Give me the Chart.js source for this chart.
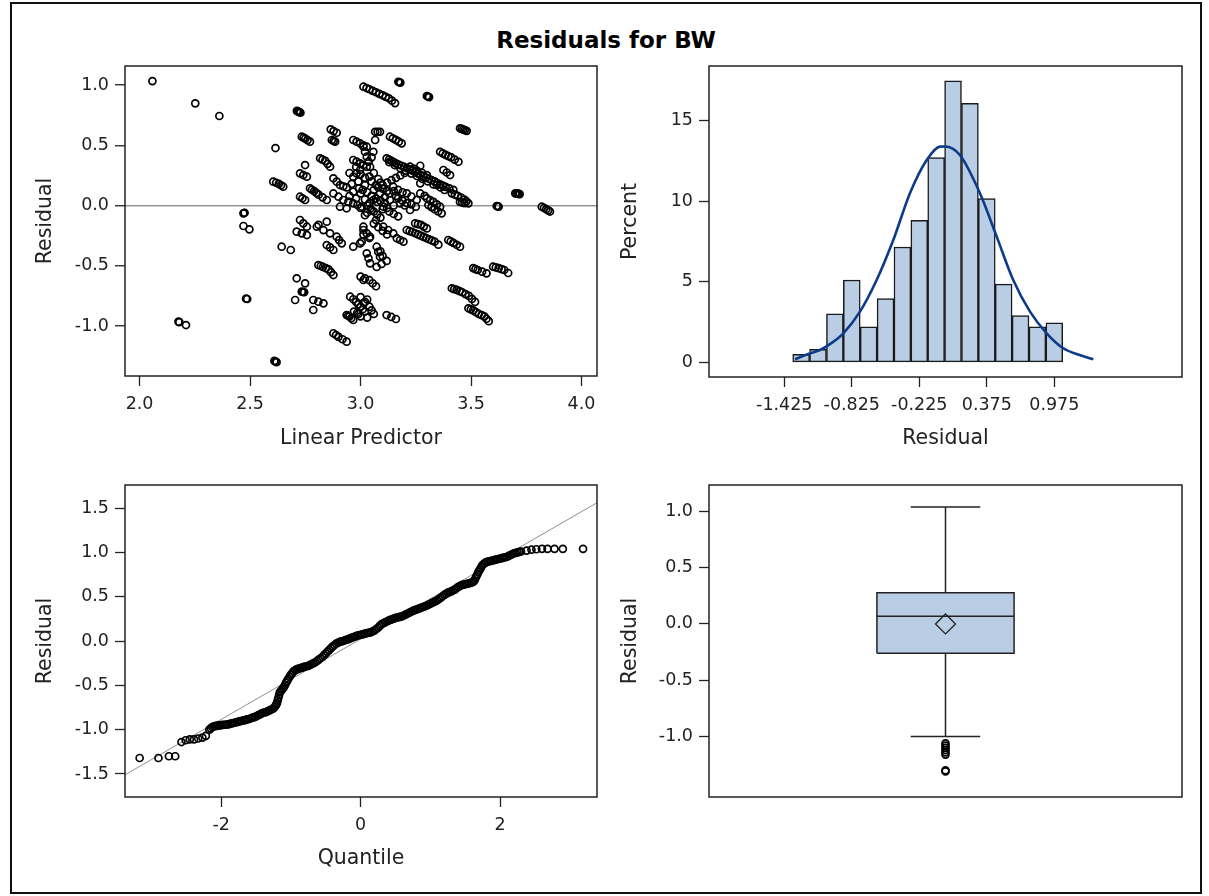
<!DOCTYPE html>
<html>
<head>
<meta charset="utf-8">
<title>Residuals for BW</title>
<script src="https://cdn.jsdelivr.net/npm/chart.js@4.4.1/dist/chart.umd.min.js"></script>
<style>
  html, body { margin: 0; padding: 0; background: #fff; }
  #stage { position: relative; width: 1209px; height: 896px; overflow: hidden; background: #fff; }
  #frame { position: absolute; left: 10px; top: 2px; width: 1192px; height: 892px; box-sizing: border-box; border: 2px solid #111; }
  #title { position: absolute; left: 0; top: 29px; width: 1212px; text-align: center; font: bold 23px "DejaVu Sans", sans-serif; line-height: 23px; color: #000; }
  canvas { position: absolute; }
</style>
</head>
<body>
<div id="stage">
  <div id="frame"></div>
  <div id="title">Residuals for BW</div>
  <canvas id="fitPlot" width="579" height="405" style="left:33px;top:46px"></canvas>
  <canvas id="histPlot" width="579" height="405" style="left:618px;top:46px"></canvas>
  <canvas id="qqPlot" width="579" height="406" style="left:33px;top:465px"></canvas>
  <canvas id="boxPlot" width="579" height="352" style="left:618px;top:465px"></canvas>
</div>
<script>
// residual vs linear predictor
const fitPoints = [
  [2.058, 1.033], [2.252, 0.848], [2.361, 0.743], [2.615, 0.477],
  [2.712, 0.785], [2.716, 0.782], [2.720, 0.778], [2.724, 0.774], [2.728, 0.770],
  [2.734, 0.571], [2.742, 0.563], [2.750, 0.555], [2.760, 0.543], [2.771, 0.530],
  [2.865, 0.632], [2.878, 0.618], [2.892, 0.604], [2.870, 0.544], [2.878, 0.537], [2.885, 0.530],
  [2.817, 0.392], [2.828, 0.381], [2.840, 0.370], [2.851, 0.346], [2.862, 0.322],
  [2.605, 0.198], [2.618, 0.189], [2.630, 0.180], [2.640, 0.168], [2.650, 0.156],
  [2.726, 0.267], [2.741, 0.253], [2.757, 0.239], [2.749, 0.336],
  [2.726, 0.073], [2.737, 0.060], [2.749, 0.046],
  [2.771, 0.143], [2.780, 0.131], [2.790, 0.120], [2.800, 0.105], [2.810, 0.090], [2.828, 0.068], [2.847, 0.046],
  [2.877, 0.226], [2.892, 0.198], [2.907, 0.170], [2.922, 0.160], [2.937, 0.150], [2.967, 0.239], [2.982, 0.267],
  [2.998, 0.295], [2.967, 0.115], [2.993, 0.142], [3.020, 0.170], [2.877, 0.100], [2.900, 0.073], [2.922, 0.046],
  [2.945, 0.032], [2.967, 0.018], [2.986, 0.004], [3.005, -0.010], [2.937, -0.023], [2.907, -0.010], [2.950, 0.080],
  [2.980, 0.060], [2.990, 0.200], [2.960, 0.180],
  [2.967, 0.544], [2.982, 0.530], [2.998, 0.515], [3.013, 0.500], [3.028, 0.488],
  [2.967, 0.378], [2.982, 0.364], [2.998, 0.350], [3.013, 0.336], [3.028, 0.322],
  [3.013, 0.986], [3.027, 0.975], [3.040, 0.965], [3.055, 0.952], [3.070, 0.940], [3.085, 0.927], [3.100, 0.915],
  [3.114, 0.902], [3.128, 0.890], [3.142, 0.870], [3.156, 0.850],
  [3.171, 1.027], [3.176, 1.023], [3.180, 1.020], [3.300, 0.909], [3.305, 0.905], [3.310, 0.900],
  [3.450, 0.641], [3.458, 0.636], [3.465, 0.630], [3.472, 0.625], [3.480, 0.620],
  [3.066, 0.612], [3.077, 0.612], [3.088, 0.612], [3.066, 0.544],
  [3.133, 0.571], [3.146, 0.558], [3.160, 0.545], [3.173, 0.530], [3.186, 0.516],
  [3.013, 0.488], [3.020, 0.447], [3.028, 0.405], [3.036, 0.364], [3.043, 0.322], [3.058, 0.446], [3.050, 0.400],
  [3.360, 0.446], [3.372, 0.433], [3.385, 0.420], [3.397, 0.410], [3.410, 0.400], [3.426, 0.381], [3.443, 0.363],
  [3.118, 0.392], [3.129, 0.381], [3.140, 0.370], [3.150, 0.360], [3.160, 0.350], [3.172, 0.340], [3.185, 0.330],
  [3.197, 0.320], [3.210, 0.310], [3.222, 0.300], [3.235, 0.290], [3.247, 0.277], [3.260, 0.265], [3.272, 0.255],
  [3.285, 0.245], [3.297, 0.232], [3.310, 0.220], [3.322, 0.210], [3.335, 0.200], [3.347, 0.187], [3.360, 0.175],
  [3.372, 0.165], [3.385, 0.155], [3.402, 0.142], [3.420, 0.130],
  [3.130, 0.360], [3.155, 0.335], [3.180, 0.310], [3.205, 0.290], [3.230, 0.265], [3.255, 0.245], [3.280, 0.220],
  [3.305, 0.200], [3.330, 0.175],
  [3.224, 0.322], [3.240, 0.306], [3.255, 0.290], [3.278, 0.272], [3.300, 0.253], [3.270, 0.330],
  [3.413, 0.101], [3.427, 0.090], [3.440, 0.080], [3.455, 0.065], [3.470, 0.050], [3.479, 0.034], [3.488, 0.018],
  [3.700, 0.101], [3.705, 0.100], [3.710, 0.100], [3.715, 0.097], [3.720, 0.095],
  [3.616, -0.004], [3.620, -0.007], [3.625, -0.010],
  [3.820, -0.010], [3.830, -0.020], [3.840, -0.030], [3.849, -0.040], [3.857, -0.050],
  [3.345, 0.170], [3.362, 0.150], [3.380, 0.129],
  [3.148, 0.156], [3.170, 0.130], [3.190, 0.110], [3.209, 0.101], [3.230, 0.075], [3.254, 0.046], [3.179, 0.018],
  [3.200, 0.000], [3.224, -0.037], [3.133, 0.046], [3.110, 0.070], [3.088, 0.101], [3.103, -0.010], [3.120, -0.020],
  [3.058, 0.046], [3.075, 0.030], [3.150, 0.000], [3.160, 0.080], [3.120, 0.120], [3.100, 0.140], [3.070, 0.170],
  [3.050, 0.200], [3.040, 0.240], [3.080, 0.220], [3.060, 0.270], [3.090, 0.190],
  [3.000, 0.100], [3.010, 0.130], [3.030, 0.110], [3.050, 0.080], [3.020, 0.050], [3.040, 0.020], [3.070, 0.060],
  [3.090, 0.040], [3.110, 0.020], [3.130, 0.100], [3.150, 0.120], [3.170, 0.060], [3.190, 0.040], [3.210, 0.020],
  [3.230, 0.010], [3.250, -0.010], [3.270, 0.100], [3.290, 0.080], [3.060, 0.130], [3.080, 0.150], [3.100, 0.170],
  [3.120, 0.190], [3.140, 0.210], [3.160, 0.230], [3.180, 0.250], [3.200, 0.270], [2.980, 0.320], [3.000, 0.260],
  [3.020, 0.230], [2.950, 0.270], [3.130, -0.050], [3.150, -0.070], [3.170, -0.090],
  [3.060, -0.150], [3.080, -0.180], [3.100, -0.210], [3.120, -0.240],
  [3.300, 0.060], [3.315, 0.045], [3.330, 0.030], [3.345, 0.010], [3.360, -0.010],
  [3.270, 0.184], [3.375, 0.295], [3.390, 0.274], [3.405, 0.253],
  [2.470, -0.065], [2.473, -0.062], [2.475, -0.060],
  [2.470, -0.170], [2.497, -0.198],
  [2.643, -0.342], [2.684, -0.369],
  [2.482, -0.773], [2.487, -0.776],
  [2.176, -0.964], [2.180, -0.968], [2.210, -0.992],
  [2.610, -1.290], [2.615, -1.295], [2.620, -1.300],
  [2.711, -0.604], [2.749, -0.646],
  [2.734, -0.715], [2.740, -0.718], [2.745, -0.720],
  [2.704, -0.784],
  [2.786, -0.784], [2.809, -0.798], [2.832, -0.812], [2.786, -0.867],
  [2.809, -0.494], [2.820, -0.502], [2.830, -0.510], [2.843, -0.520], [2.855, -0.530], [2.866, -0.553], [2.877, -0.577],
  [2.726, -0.120], [2.741, -0.148], [2.757, -0.176], [2.711, -0.217], [2.734, -0.231], [2.757, -0.245],
  [2.802, -0.176], [2.832, -0.204], [2.862, -0.231], [2.810, -0.160], [2.847, -0.134],
  [2.847, -0.328], [2.862, -0.348], [2.877, -0.369],
  [2.892, -0.259], [2.903, -0.287], [2.915, -0.314],
  [2.967, -0.342],
  [2.937, -0.909], [2.944, -0.915], [2.950, -0.920], [2.958, -0.935], [2.967, -0.950],
  [2.877, -1.060], [2.889, -1.075], [2.900, -1.090], [2.918, -1.110], [2.937, -1.130],
  [2.953, -0.757], [2.967, -0.778], [2.980, -0.800], [2.990, -0.820], [3.000, -0.840], [3.010, -0.860], [3.020, -0.880],
  [2.970, -0.880], [2.985, -0.890], [3.000, -0.920], [3.030, -0.780], [2.990, -0.900], [3.015, -0.810],
  [3.013, -0.618],
  [3.013, -0.203], [3.028, -0.231], [3.043, -0.259],
  [3.000, -0.020], [3.030, -0.060], [3.050, -0.040],
  [3.005, -0.300], [3.040, -0.270],
  [3.030, 0.000], [3.060, -0.050], [3.090, -0.100], [3.020, -0.080], [3.070, -0.120], [3.100, -0.030], [3.045, -0.025],
  [3.075, -0.075],
  [3.013, -0.176], [3.073, -0.342], [3.080, -0.384], [3.088, -0.425], [3.028, -0.397], [3.036, -0.438], [3.043, -0.480],
  [2.998, -0.314], [3.013, -0.240],
  [3.103, -0.176], [3.125, -0.203], [3.148, -0.231],
  [3.164, -0.272], [3.179, -0.286], [3.194, -0.300],
  [3.209, -0.203], [3.222, -0.212], [3.234, -0.220], [3.247, -0.230], [3.260, -0.240], [3.272, -0.250], [3.285, -0.260],
  [3.297, -0.270], [3.310, -0.280], [3.322, -0.290], [3.335, -0.300], [3.352, -0.325],
  [3.247, -0.148], [3.260, -0.154], [3.273, -0.160], [3.286, -0.175], [3.300, -0.190],
  [3.307, 0.004], [3.321, -0.013], [3.335, -0.030], [3.351, -0.048], [3.367, -0.065],
  [3.450, 0.030], [3.460, 0.025], [3.470, 0.020],
  [3.397, -0.286], [3.408, -0.298], [3.420, -0.310], [3.435, -0.326], [3.450, -0.342],
  [3.510, -0.520], [3.520, -0.528], [3.530, -0.535], [3.550, -0.549], [3.570, -0.563],
  [3.600, -0.508], [3.612, -0.514], [3.625, -0.520], [3.638, -0.528], [3.650, -0.535], [3.668, -0.560],
  [3.413, -0.687], [3.424, -0.694], [3.435, -0.700], [3.448, -0.710], [3.460, -0.720], [3.475, -0.735], [3.490, -0.750],
  [3.504, -0.775], [3.518, -0.800],
  [3.488, -0.853], [3.499, -0.862], [3.510, -0.870], [3.522, -0.885], [3.535, -0.900], [3.548, -0.910], [3.560, -0.920],
  [3.570, -0.940], [3.580, -0.960],
  [3.000, -0.590], [3.020, -0.605], [3.040, -0.620], [3.055, -0.645], [3.070, -0.670],
  [3.000, -0.760], [3.020, -0.800], [3.040, -0.840], [3.050, -0.870], [3.060, -0.900], [3.030, -0.930],
  [3.118, -0.909], [3.139, -0.925], [3.160, -0.942],
  [3.090, -0.380], [3.100, -0.420], [3.118, -0.460], [3.073, -0.510], [3.095, -0.485]
];

// histogram of residuals (bin midpoints, percent) and fitted normal curve
const histMid = [-1.275, -1.125, -0.975, -0.825, -0.675, -0.525, -0.375, -0.225,
                 -0.075, 0.075, 0.225, 0.375, 0.525, 0.675, 0.825, 0.975];
const histPct = [0.5, 0.8, 3.0, 5.1, 2.2, 3.95, 7.15, 8.8, 12.7, 17.45, 16.05, 10.15, 4.85, 2.9, 2.2, 2.45];
const curveX = [-1.33, -1.2, -1.108, -1.0, -0.9, -0.752, -0.604, -0.456, -0.308, -0.159, -0.041, 0.003,
                0.136, 0.314, 0.463, 0.61, 0.759, 0.907, 1.055, 1.2, 1.322];
const curveY = [0.19, 0.55, 0.76, 1.22, 1.8, 3.14, 5.1, 7.58, 10.48, 12.54, 13.37, 13.38,
                12.85, 10.48, 7.79, 5.1, 3.14, 1.8, 0.87, 0.45, 0.19];

// normal quantile plot (quantile, residual)
const qqPoints = [
  [-3.17, -1.32], [-2.90, -1.32], [-2.75, -1.30], [-2.66, -1.30],
  [-2.57, -1.14], [-2.51, -1.12], [-2.45, -1.11], [-2.39, -1.11], [-2.33, -1.10], [-2.27, -1.09], [-2.22, -1.07],
  [-2.17, -1.00], [-2.15, -0.985], [-2.13, -0.97], [-2.11, -0.965], [-2.09, -0.96], [-2.07, -0.957], [-2.05, -0.955],
  [-2.025, -0.952], [-2.00, -0.95], [-1.975, -0.947], [-1.95, -0.945], [-1.925, -0.942], [-1.90, -0.94],
  [-1.875, -0.935], [-1.85, -0.93], [-1.825, -0.925], [-1.80, -0.92], [-1.775, -0.915], [-1.75, -0.91],
  [-1.725, -0.905], [-1.70, -0.90], [-1.675, -0.895], [-1.65, -0.89], [-1.625, -0.885], [-1.60, -0.88],
  [-1.575, -0.872], [-1.55, -0.865], [-1.525, -0.858], [-1.50, -0.85], [-1.475, -0.84], [-1.45, -0.83],
  [-1.425, -0.82], [-1.40, -0.81], [-1.375, -0.805], [-1.35, -0.80], [-1.325, -0.79], [-1.30, -0.78],
  [-1.275, -0.77], [-1.25, -0.76], [-1.235, -0.745], [-1.22, -0.73], [-1.21, -0.715], [-1.20, -0.70],
  [-1.19, -0.67], [-1.18, -0.64], [-1.17, -0.61], [-1.16, -0.58], [-1.145, -0.565], [-1.13, -0.55],
  [-1.115, -0.535], [-1.10, -0.52], [-1.085, -0.495], [-1.07, -0.47], [-1.055, -0.45], [-1.04, -0.43],
  [-1.02, -0.405], [-1.00, -0.38], [-0.98, -0.36], [-0.96, -0.34], [-0.94, -0.33], [-0.92, -0.32],
  [-0.90, -0.315], [-0.88, -0.31], [-0.86, -0.305], [-0.84, -0.30], [-0.82, -0.295], [-0.80, -0.29],
  [-0.775, -0.285], [-0.75, -0.28], [-0.725, -0.27], [-0.70, -0.26], [-0.675, -0.25], [-0.65, -0.24],
  [-0.625, -0.225], [-0.60, -0.21], [-0.575, -0.195], [-0.55, -0.18], [-0.525, -0.16], [-0.50, -0.14],
  [-0.475, -0.12], [-0.45, -0.10], [-0.425, -0.08], [-0.40, -0.06], [-0.375, -0.045], [-0.35, -0.03],
  [-0.325, -0.02], [-0.30, -0.01], [-0.275, -0.005], [-0.25, 0.00], [-0.225, 0.008], [-0.20, 0.015],
  [-0.175, 0.022], [-0.15, 0.03], [-0.125, 0.038], [-0.10, 0.045], [-0.075, 0.052], [-0.05, 0.06],
  [-0.025, 0.065], [0.00, 0.07], [0.025, 0.075], [0.05, 0.08], [0.075, 0.085], [0.10, 0.09],
  [0.125, 0.095], [0.15, 0.10], [0.175, 0.11], [0.20, 0.12], [0.225, 0.135], [0.25, 0.15],
  [0.275, 0.17], [0.30, 0.19], [0.325, 0.20], [0.35, 0.21], [0.375, 0.22], [0.40, 0.23],
  [0.425, 0.238], [0.45, 0.245], [0.475, 0.252], [0.50, 0.26], [0.525, 0.265], [0.55, 0.27],
  [0.575, 0.275], [0.60, 0.28], [0.625, 0.29], [0.65, 0.30], [0.675, 0.31], [0.70, 0.32],
  [0.725, 0.33], [0.75, 0.34], [0.775, 0.348], [0.80, 0.355], [0.825, 0.362], [0.85, 0.37],
  [0.875, 0.378], [0.90, 0.385], [0.925, 0.392], [0.95, 0.40], [0.975, 0.41], [1.00, 0.42],
  [1.025, 0.43], [1.05, 0.44], [1.075, 0.45], [1.10, 0.46], [1.125, 0.475], [1.15, 0.49],
  [1.175, 0.505], [1.20, 0.52], [1.225, 0.532], [1.25, 0.545], [1.275, 0.552], [1.30, 0.56],
  [1.325, 0.57], [1.35, 0.58], [1.375, 0.595], [1.40, 0.61], [1.425, 0.62], [1.45, 0.63],
  [1.475, 0.635], [1.50, 0.64], [1.525, 0.645], [1.55, 0.65], [1.575, 0.655], [1.60, 0.66],
  [1.615, 0.67], [1.63, 0.68], [1.645, 0.705], [1.66, 0.73], [1.675, 0.755], [1.69, 0.78],
  [1.705, 0.80], [1.72, 0.82], [1.735, 0.84], [1.75, 0.86], [1.775, 0.875], [1.80, 0.89],
  [1.825, 0.895], [1.85, 0.90], [1.875, 0.905], [1.90, 0.91], [1.925, 0.915], [1.95, 0.92],
  [1.975, 0.925], [2.00, 0.93], [2.025, 0.935], [2.05, 0.94], [2.075, 0.945], [2.10, 0.95],
  [2.125, 0.96], [2.15, 0.97], [2.175, 0.98], [2.20, 0.99], [2.225, 0.995], [2.25, 1.00],
  [2.275, 1.005], [2.30, 1.01],
  [2.38, 1.02], [2.45, 1.03], [2.52, 1.035], [2.60, 1.04], [2.68, 1.04], [2.78, 1.04], [2.90, 1.04], [3.19, 1.04]
];
const qqLineX = [-3.38, 3.39];
const qqLineY = [-1.51, 1.56];

// box plot summary
const boxQ1 = -0.261;
const boxMedian = 0.068;
const boxQ3 = 0.278;
const boxMean = 0.0;
const whiskerLow = -1.0;
const whiskerHigh = 1.038;
const boxOutliers = [-1.06, -1.08, -1.10, -1.12, -1.14, -1.16, -1.30, -1.31];

// tick labels
const predTicks = [2, 2.5, 3, 3.5, 4];
const residTicks = [-1, -0.5, 0, 0.5, 1];
const histTicks = [-1.425, -0.825, -0.225, 0.375, 0.975];
const pctTicks = [0, 5, 10, 15];
const quantileTicks = [-2, 0, 2];
const qqResidTicks = [-1.5, -1, -0.5, 0, 0.5, 1, 1.5];

const INK = '#222';
const FILL = '#b9cde5';
const CURVE = '#0c3b8a';

Chart.defaults.font.family = '"DejaVu Sans", sans-serif';
Chart.defaults.font.size = 17.5;
Chart.defaults.color = INK;
Chart.defaults.animation = false;
Chart.defaults.responsive = false;
Chart.defaults.plugins.legend.display = false;
Chart.defaults.plugins.tooltip.enabled = false;

const frame = {
  id: 'frame',
  afterDatasetsDraw(chart) {
    const { ctx, chartArea: a } = chart;
    ctx.save();
    ctx.strokeStyle = INK;
    ctx.lineWidth = 1.5;
    ctx.strokeRect(a.left, a.top, a.right - a.left, a.bottom - a.top);
    ctx.restore();
  }
};

function makeAxis(position, min, max, tickValues, titleText, fmt, thickness) {
  return {
    type: 'linear',
    position, min, max,
    offset: false,
    afterBuildTicks: s => { s.ticks = tickValues.map(v => ({ value: v })); },
    afterFit: s => { if (position === 'left') s.width = thickness; else s.height = thickness; },
    ticks: { callback: v => fmt(v), padding: position === 'left' ? 6 : 8, maxRotation: 0, autoSkip: false, color: INK },
    grid: { offset: false, drawOnChartArea: false, drawTicks: true, tickLength: 10, tickWidth: 1.3, tickColor: INK, color: INK },
    border: { display: false },
    title: { display: true, text: titleText, padding: 0, font: { size: 20.5 }, color: INK }
  };
}

const ring = { pointRadius: 3.5, pointHoverRadius: 3.5, borderWidth: 1.7, borderColor: '#000', backgroundColor: 'rgba(0,0,0,0)' };
const pad = { top: 20, right: 15, left: 0, bottom: 0 };
const one = v => v.toFixed(1);

// top left: residual vs linear predictor
new Chart(document.getElementById('fitPlot'), {
  type: 'scatter',
  data: { datasets: [{ data: fitPoints.map(([x, y]) => ({ x, y })), ...ring }] },
  options: {
    layout: { padding: pad },
    scales: {
      x: makeAxis('bottom', 1.934, 4.07, predTicks, 'Linear Predictor', one, 75),
      y: {
        ...makeAxis('left', -1.415, 1.158, residTicks, 'Residual', one, 92),
        grid: {
          drawOnChartArea: true, drawTicks: true, tickLength: 10, tickWidth: 1.3, tickColor: INK, lineWidth: 1.5,
          color: c => (c.tick && c.tick.value === 0 ? '#959595' : 'rgba(0,0,0,0)')
        }
      }
    }
  },
  plugins: [frame]
});

// top right: histogram with normal curve
new Chart(document.getElementById('histPlot'), {
  type: 'bar',
  data: {
    datasets: [
      {
        type: 'line', data: curveX.map((x, i) => ({ x, y: curveY[i] })),
        borderColor: CURVE, borderWidth: 2.6, pointRadius: 0, cubicInterpolationMode: 'monotone', order: 0
      },
      {
        type: 'bar', data: histMid.map((x, i) => ({ x, y: histPct[i] })),
        backgroundColor: FILL, borderColor: '#1a1a1a', borderWidth: 1.5, borderSkipped: false,
        barPercentage: 1, categoryPercentage: 1, order: 1
      }
    ]
  },
  options: {
    layout: { padding: pad },
    scales: {
      x: makeAxis('bottom', -2.094, 2.11, histTicks, 'Residual', v => v.toFixed(3), 74),
      y: makeAxis('left', -0.911, 18.37, pctTicks, 'Percent', v => String(v), 91)
    }
  },
  plugins: [frame]
});

// bottom left: normal quantile plot
new Chart(document.getElementById('qqPlot'), {
  type: 'scatter',
  data: {
    datasets: [
      { data: qqPoints.map(([x, y]) => ({ x, y })), ...ring, order: 0 },
      {
        type: 'line', data: qqLineX.map((x, i) => ({ x, y: qqLineY[i] })),
        borderColor: '#8f8f8f', borderWidth: 1, pointRadius: 0, order: 1
      }
    ]
  },
  options: {
    layout: { padding: pad },
    scales: {
      x: makeAxis('bottom', -3.38, 3.39, quantileTicks, 'Quantile', v => String(v), 74),
      y: makeAxis('left', -1.76, 1.76, qqResidTicks, 'Residual', one, 92)
    }
  },
  plugins: [frame]
});

// bottom right: box plot
const boxHalf = 0.29;
const capHalf = 0.147;
const seg = pts => ({ type: 'line', data: pts, borderColor: INK, borderWidth: 1.5, pointRadius: 0, order: 1 });

new Chart(document.getElementById('boxPlot'), {
  type: 'scatter',
  data: {
    datasets: [
      {
        data: [{ x: 0, y: boxMean }], pointStyle: 'rectRot', pointRadius: 10, pointHoverRadius: 10,
        borderColor: INK, borderWidth: 1.3, backgroundColor: 'rgba(0,0,0,0)', order: 0
      },
      { data: boxOutliers.map(y => ({ x: 0, y })), ...ring, order: 0 },
      seg([{ x: -boxHalf, y: boxMedian }, { x: boxHalf, y: boxMedian }]),
      seg([{ x: -boxHalf, y: boxQ1 }, { x: boxHalf, y: boxQ1 }, { x: boxHalf, y: boxQ3 },
           { x: -boxHalf, y: boxQ3 }, { x: -boxHalf, y: boxQ1 }]),
      seg([{ x: 0, y: boxQ3 }, { x: 0, y: whiskerHigh }]),
      seg([{ x: -capHalf, y: whiskerHigh }, { x: capHalf, y: whiskerHigh }]),
      seg([{ x: 0, y: boxQ1 }, { x: 0, y: whiskerLow }]),
      seg([{ x: -capHalf, y: whiskerLow }, { x: capHalf, y: whiskerLow }]),
      {
        type: 'line', data: [{ x: -boxHalf, y: boxQ3 }, { x: boxHalf, y: boxQ3 }],
        borderWidth: 0, borderColor: 'rgba(0,0,0,0)', pointRadius: 0, order: 9
      },
      {
        type: 'line', data: [{ x: -boxHalf, y: boxQ1 }, { x: boxHalf, y: boxQ1 }],
        borderWidth: 0, borderColor: 'rgba(0,0,0,0)', pointRadius: 0, fill: '-1', backgroundColor: FILL, order: 9
      }
    ]
  },
  options: {
    layout: { padding: { top: 20, right: 15, left: 0, bottom: 20 } },
    scales: {
      x: { type: 'linear', min: -1, max: 1, display: false },
      y: makeAxis('left', -1.537, 1.234, residTicks, 'Residual', one, 91)
    }
  },
  plugins: [frame]
});
</script>
</body>
</html>
